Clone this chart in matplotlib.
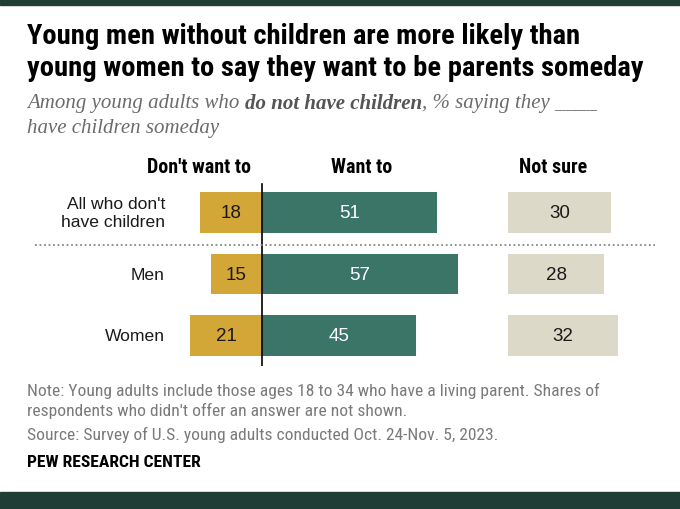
import matplotlib
matplotlib.use("Agg")
from matplotlib import pyplot as plt

# data
groups = ["All who don't\nhave children", "Men", "Women"]
dont_want = [18, 15, 21]
want = [51, 57, 45]
not_sure = [30, 28, 32]
headers = ["Don't want to", "Want to", "Not sure"]

title_lines = ["Young men without children are more likely than",
               "young women to say they want to be parents someday"]
note_lines = ["Note: Young adults include those ages 18 to 34 who have a living parent. Shares of",
              "respondents who didn't offer an answer are not shown.",
              "Source: Survey of U.S. young adults conducted Oct. 24-Nov. 5, 2023."]

GOLD = '#d2a637'
GREEN = '#3b7568'
BEIGE = '#dcd9c9'
DARK = '#1f3e36'
NARROW = ['Roboto Condensed', 'DejaVu Sans']
SANS = ['Liberation Sans', 'DejaVu Sans']
SERIF = ['Liberation Serif']

W, H = 680, 510
fig = plt.figure(figsize=(W / 100, H / 100), dpi=100)


def fy(px):
    return 1 - px / H


# top and bottom bands
fig.patches.append(plt.Rectangle((0, fy(6)), 1, 6 / H, transform=fig.transFigure, color=DARK, zorder=0))
fig.patches.append(plt.Rectangle((0, 0), 1, 17 / H, transform=fig.transFigure, color=DARK, zorder=0))

# title + subtitle
for py, line in zip([37, 69], title_lines):
    fig.text(27 / W, fy(py), line, fontsize=20.5, fontweight='bold', family=NARROW,
             va='center', ha='left', color='black')

r = fig.canvas.get_renderer()
sub_size = 15
t1 = fig.text(27 / W, fy(104), "Among young adults who ", fontsize=sub_size, style='italic',
              family=SERIF, color='#6b6b6b', va='center')
bb = t1.get_window_extent(r)
t2 = fig.text(bb.x1 / W, fy(104), "do not have children", fontsize=sub_size, style='italic',
              fontweight='bold', family=SERIF, color='#555555', va='center')
bb2 = t2.get_window_extent(r)
fig.text(bb2.x1 / W, fy(104), ", % saying they ____", fontsize=sub_size, style='italic',
         family=SERIF, color='#6b6b6b', va='center')
fig.text(27 / W, fy(128), "have children someday", fontsize=sub_size, style='italic',
         family=SERIF, color='#6b6b6b', va='center')

# main axes: 0 at px 262, 3.43 px per point
ppu = 3.43
ax = fig.add_axes([0, (H - 367) / H, 1, 184 / H])
ax.set_xlim(-262 / ppu, (W - 262) / ppu)
ax.set_ylim(2.5, -0.5)
ax.axis('off')

ns_left = (508 - 262) / ppu
rows = range(len(groups))
ax.barh(rows, [-v for v in dont_want], height=0.667, color=GOLD)
ax.barh(rows, want, height=0.667, color=GREEN)
ax.barh(rows, not_sure, left=ns_left, height=0.667, color=BEIGE)

for i in rows:
    ax.text(-dont_want[i] / 2, i, str(dont_want[i]), ha='center', va='center',
            fontsize=13.5, family=SANS, color='#1a1a1a')
    ax.text(want[i] / 2, i, str(want[i]), ha='center', va='center',
            fontsize=13.5, family=SANS, color='white')
    ax.text(ns_left + not_sure[i] / 2, i, str(not_sure[i]), ha='center', va='center',
            fontsize=13.5, family=SANS, color='#1a1a1a')
    ax.text((165 - 262) / ppu, i, groups[i], ha='right', va='center',
            fontsize=12.6, family=SANS, color='#1a1a1a', linespacing=1.3)

ax.axvline(0, color='black', lw=1.2, ymin=0, ymax=0.99)
ax.plot([(35 - 262) / ppu, (655 - 262) / ppu], [0.53, 0.53], ls=(0, (1, 1.5)),
        color='#888888', lw=1.3, clip_on=False)

# column headers
for hx, label in zip([199, 362, 553], headers):
    fig.text(hx / W, fy(168), label, ha='center', va='center', fontsize=14.4,
             fontweight='bold', family=NARROW, color='black')

# notes
for py, line in zip([391, 411, 435], note_lines):
    fig.text(27 / W, fy(py), line, ha='left', va='center', fontsize=12.6,
             family=NARROW, color='#7a7a7a')
fig.text(27 / W, fy(463), "PEW RESEARCH CENTER", ha='left', va='center', fontsize=12.6,
         fontweight='bold', family=NARROW, color='black')

fig.savefig('out.png', dpi=100, facecolor='white')
